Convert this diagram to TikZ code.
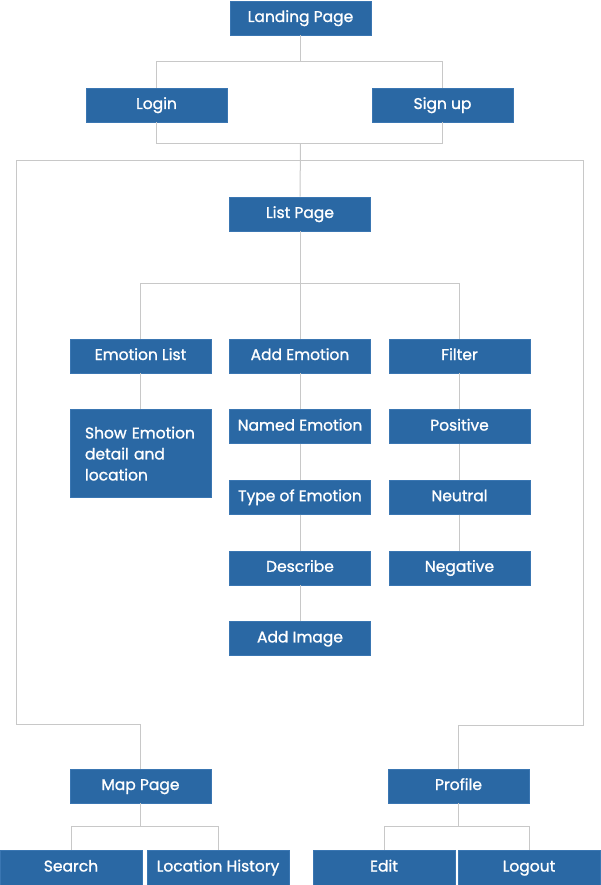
\documentclass[tikz,border=0pt]{standalone}
\usepackage{fontspec}
\setmainfont{Poppins}
\newfontfamily\boxfont{Poppins}[FakeBold=1.2]
\usetikzlibrary{positioning, calc}
\definecolor{boxblue}{RGB}{42,104,164}
\definecolor{boxedge}{RGB}{58,118,178}
\definecolor{linkgray}{RGB}{200,200,200}
\tikzstyle{page} = [rectangle, fill=boxblue, draw=boxedge, line width=0.6pt, minimum width=141pt, minimum height=34pt, inner sep=0pt, text height=11.5pt, text depth=3.5pt, text=white, font=\boxfont\fontsize{15.5}{21}\selectfont]
\tikzstyle{leaf} = [page, minimum width=142pt, minimum height=35pt]
\tikzstyle{link} = [draw=linkgray, line width=1pt]

\begin{document}
\begin{tikzpicture}[x=1pt, y=1pt, node distance = 36pt]
	\useasboundingbox (0,0) rectangle (600,-885);
	\node (Landing) [page] at (300.5,-18) {Landing Page};
	\node (Login) [page] at (156.5,-105) {Login};
	\node (Signup) [page] at (442.5,-105) {Sign up};
	\node (List) [page] at (300,-214) {List Page};
	\node (EmotionList) [page] at (140.5,-356) {Emotion List};
	\node (AddEmotion) [page] at (300,-356) {Add Emotion};
	\node (Filter) [page] at (459.5,-356) {Filter};
	\node (ShowEmotion) [page, text width=111pt, inner xsep=15pt, align=left, minimum height=88pt, text height=, text depth=, below = of EmotionList] {Show Emotion\\detail and\\location};
	\node (Named) [page, below = of AddEmotion] {Named Emotion};
	\node (Type) [page, below = of Named] {Type of Emotion};
	\node (Describe) [page, below = of Type] {Describe};
	\node (AddImage) [page, below = of Describe] {Add Image};
	\node (Positive) [page, below = of Filter] {Positive};
	\node (Neutral) [page, below = of Positive] {Neutral};
	\node (Negative) [page, below = of Neutral] {Negative};
	\node (Map) [page] at (140.5,-786) {Map Page};
	\node (Profile) [page] at (458.5,-786) {Profile};
	\node (Search) [leaf] at (71,-867.5) {Search};
	\node (History) [leaf] at (218,-867.5) {Location History};
	\node (Edit) [leaf] at (384,-867.5) {Edit};
	\node (Logout) [leaf] at (529,-867.5) {Logout};
	\coordinate (FrameTL) at (16,-161);
	\coordinate (FrameTR) at (583,-161);
	% landing to login / sign up
	\draw [link] (Landing.south) -- ++(0,-26) coordinate (j1) -| (Login.north);
	\draw [link] (j1) -| (Signup.north);
	\draw [link] (Login.south) -- ++(0,-21) -| (Signup.south);
	\draw [link] (j1 |- Login.south) ++(0,-21) -- (List.north);
	% frame round the list page
	\draw [link] (Map.north) -- ++(0,44) -| (FrameTL) -- (FrameTR) -- ++(0,-564) -| (Profile.north);
	% list page branches
	\draw [link] (List.south) -- (AddEmotion.north);
	\draw [link] (EmotionList.north) -- ++(0,55) -| (Filter.north);
	\draw [link] (EmotionList) -- (ShowEmotion);
	\draw [link] (AddEmotion) -- (Named);
	\draw [link] (Named) -- (Type);
	\draw [link] (Type) -- (Describe);
	\draw [link] (Describe) -- (AddImage);
	\draw [link] (Filter) -- (Positive);
	\draw [link] (Positive) -- (Neutral);
	\draw [link] (Neutral) -- (Negative);
	% map page and profile
	\draw [link] (Map.south) -- ++(0,-23) coordinate (j2) -| (Search.north);
	\draw [link] (j2) -| (History.north);
	\draw [link] (Profile.south) -- ++(0,-23) coordinate (j3) -| (Edit.north);
	\draw [link] (j3) -| (Logout.north);
\end{tikzpicture}
\end{document}
